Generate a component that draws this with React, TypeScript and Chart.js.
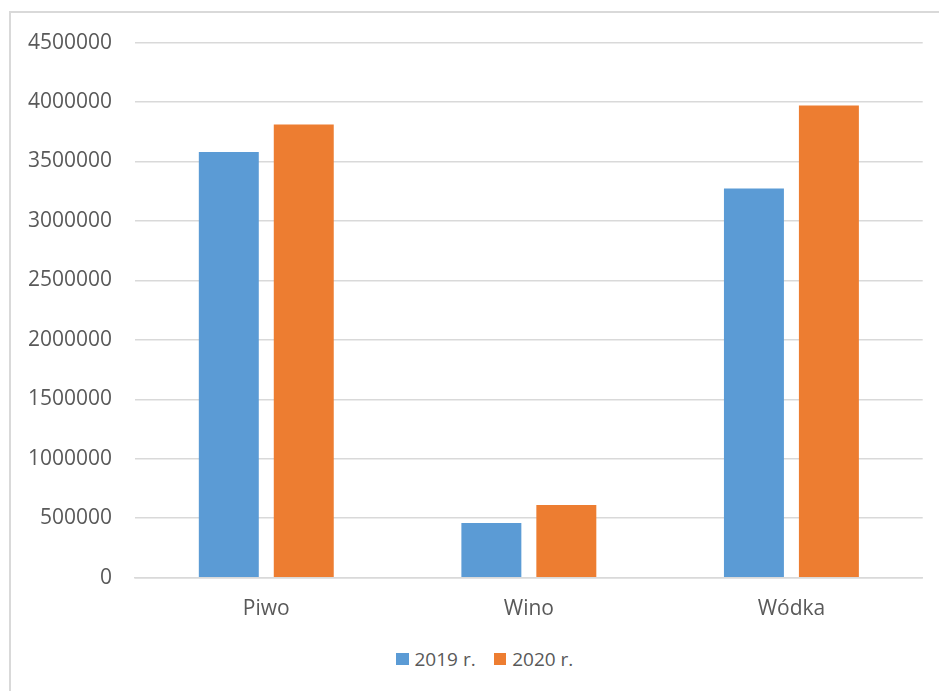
import React, { useEffect, useRef } from "react";
import { Chart, registerables } from "chart.js";

Chart.register(...registerables);

const categories = ["Piwo", "Wino", "Wódka"];
const series2019 = [3579000, 460000, 3274000];
const series2020 = [3812000, 611000, 3972000];
const seriesLabels = ["2019 r.", "2020 r."];
const yMax = 4500000;
const yStep = 500000;

const BLUE = "#5B9BD5";
const ORANGE = "#ED7D31";
const GRID = "#d9d9d9";
const TEXT = "#595959";
const FONT = "'Open Sans', 'DejaVu Sans', sans-serif";

const CW = 929;
const CTOP = 6.5;
const CH = 627;

export default function App() {
  const ref = useRef<HTMLCanvasElement | null>(null);

  useEffect(() => {
    if (!ref.current) return;
    const chart = new Chart(ref.current, {
      type: "bar",
      data: {
        labels: categories,
        datasets: [
          {
            label: seriesLabels[0],
            data: series2019,
            backgroundColor: BLUE,
            barPercentage: 0.8,
            categoryPercentage: 0.571,
          },
          {
            label: seriesLabels[1],
            data: series2020,
            backgroundColor: ORANGE,
            barPercentage: 0.8,
            categoryPercentage: 0.571,
          },
        ],
      },
      options: {
        responsive: false,
        maintainAspectRatio: false,
        animation: false,
        devicePixelRatio: 1,
        layout: { padding: { left: 0, right: CW - 912.7, top: 10, bottom: 0 } },
        plugins: {
          legend: { display: false },
          tooltip: { enabled: false },
          title: { display: false },
        },
        scales: {
          x: {
            grid: { display: false, drawTicks: false },
            border: { display: true, color: GRID, width: 1.5 },
            ticks: {
              color: TEXT,
              font: { family: FONT, size: 21 },
              padding: 19,
            },
            afterFit: (s: any) => {
              s.height = 56.3;
            },
          },
          y: {
            min: 0,
            max: yMax,
            grid: { color: GRID, lineWidth: 1.5, drawTicks: false },
            border: { display: false },
            ticks: {
              stepSize: yStep,
              color: TEXT,
              font: { family: FONT, size: 21 },
              padding: 23,
              callback: (v: any) => String(v),
            },
            afterFit: (s: any) => {
              s.width = 125;
            },
          },
        },
      },
    });
    return () => chart.destroy();
  }, []);

  const legendItem = (color: string, text: string) => (
    <div style={{ display: "flex", alignItems: "center", marginRight: 18 }}>
      <div style={{ width: 12.5, height: 12.5, background: color, marginRight: 6 }} />
      <span style={{ fontFamily: FONT, fontSize: 19, color: TEXT, lineHeight: "20px" }}>{text}</span>
    </div>
  );

  return (
    <div
      style={{
        position: "fixed",
        left: 0,
        top: 0,
        width: 939,
        height: 691,
        background: "#fff",
        overflow: "hidden",
      }}
    >
      <div
        style={{
          position: "absolute",
          left: 9,
          top: 11,
          width: 980,
          height: 720,
          border: `2px solid ${GRID}`,
          boxSizing: "border-box",
        }}
      />
      <canvas
        ref={ref}
        width={CW}
        height={CH}
        style={{ position: "absolute", left: 10, top: CTOP, width: CW, height: CH }}
      />
      <div
        style={{
          position: "absolute",
          left: 396,
          top: 649,
          display: "flex",
          alignItems: "center",
          height: 20,
        }}
      >
        {legendItem(BLUE, seriesLabels[0])}
        {legendItem(ORANGE, seriesLabels[1])}
      </div>
    </div>
  );
}
